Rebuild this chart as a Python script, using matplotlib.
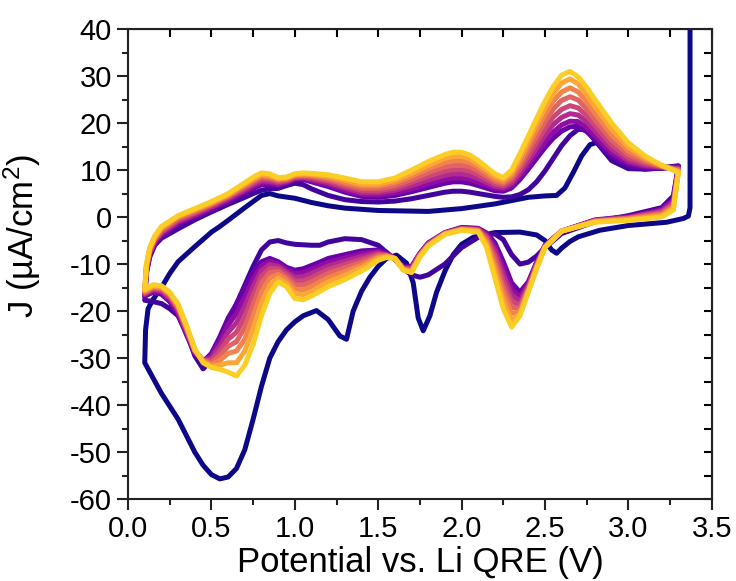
import numpy as np
import matplotlib
matplotlib.use("Agg")
import matplotlib.pyplot as plt
from matplotlib.ticker import MultipleLocator

plt.rcParams["font.family"] = ["Liberation Sans", "DejaVu Sans"]
plt.rcParams["mathtext.fontset"] = "custom"
plt.rcParams["mathtext.rm"] = "Liberation Sans"
plt.rcParams["axes.unicode_minus"] = False

# ---- cycle 1 (first scan, starts at OCV) ----
cyc1_cat_E = [3.37, 3.37, 3.36, 3.33, 3.23, 3.00, 2.83, 2.70, 2.65, 2.60, 2.57, 2.54, 2.50, 2.45, 2.35,
              2.20, 2.07, 2.00, 1.95, 1.90, 1.85, 1.81, 1.77, 1.74, 1.71, 1.67, 1.61, 1.55, 1.50, 1.45,
              1.40, 1.35, 1.31, 1.27, 1.20, 1.13, 1.05, 1.00, 0.95, 0.90, 0.85, 0.80, 0.75, 0.70, 0.65,
              0.60, 0.55, 0.50, 0.45, 0.40, 0.30, 0.20, 0.10]
cyc1_cat_J = [46.0, 2.0, 0.2, -0.3, -1.1, -1.8, -2.8, -4.2, -5.2, -6.6, -7.7, -7.0, -5.0, -3.8, -3.2,
              -3.3, -4.3, -5.8, -8.0, -11.5, -16.0, -21.0, -24.2, -21.5, -14.0, -9.8, -8.1, -8.8, -10.5, -12.8,
              -15.8, -20.0, -26.0, -25.3, -21.8, -19.9, -21.0, -22.3, -24.0, -26.5, -30.0, -36.0, -43.0, -49.5, -53.5,
              -55.3, -55.7, -54.8, -52.8, -50.0, -43.0, -37.5, -31.0]
cyc1_an_E = [0.10, 0.105, 0.12, 0.15, 0.20, 0.25, 0.30, 0.40, 0.50, 0.55, 0.60, 0.70, 0.80, 0.85, 0.90,
             1.00, 1.10, 1.20, 1.30, 1.50, 1.80, 2.00, 2.10, 2.20, 2.30, 2.40, 2.50, 2.57, 2.62, 2.67,
             2.72, 2.77, 2.82, 2.87, 2.92, 3.00, 3.10, 3.20, 3.30]
cyc1_an_J = [-31.0, -24.0, -19.5, -17.5, -15.0, -12.0, -9.5, -6.3, -3.2, -2.0, -0.7, 2.0, 4.6, 5.0, 4.5,
             4.0, 3.1, 2.4, 1.9, 1.4, 1.2, 1.8, 2.3, 2.8, 3.5, 4.2, 4.5, 4.6, 6.2, 9.5,
             13.0, 15.4, 16.0, 14.3, 12.3, 10.8, 10.2, 10.4, 10.8]

# ---- cycles 2-10: cathodic sweep (listed with rising potential) ----
E_cat = [0.10, 0.15, 0.20, 0.25, 0.30, 0.35, 0.40, 0.45, 0.50, 0.55,
         0.60, 0.65, 0.70, 0.75, 0.80, 0.85, 0.90, 0.95, 1.00, 1.05,
         1.10, 1.15, 1.20, 1.30, 1.40, 1.50, 1.55, 1.60, 1.65, 1.70,
         1.75, 1.80, 1.90, 2.00, 2.10, 2.15, 2.20, 2.25, 2.30, 2.35,
         2.40, 2.45, 2.50, 2.60, 2.80, 3.00, 3.20, 3.27, 3.30]

cat_c2 = [-17.7, -18.0, -18.4, -19.5, -21.0, -24.5, -29.5, -32.3, -30.5, -27.0,
          -23.0, -18.5, -14.5, -10.5, -7.0, -5.3, -5.0, -5.5, -5.8, -5.9,
          -6.0, -6.0, -5.3, -4.6, -4.8, -6.0, -7.5, -9.0, -11.0, -12.3,
          -12.8, -12.3, -10.0, -6.5, -4.3, -3.8, -3.6, -4.8, -8.0, -10.0,
          -9.6, -8.3, -6.5, -3.5, -1.0, 0.3, 2.0, 4.5, 10.8]
cat_c3 = [-16.8, -16.0, -16.4, -18.0, -20.8, -25.0, -29.0, -30.8, -29.0, -25.5,
          -21.5, -18.5, -15.0, -11.8, -9.5, -8.8, -9.5, -10.7, -11.3, -11.0,
          -10.3, -9.6, -8.8, -8.0, -7.2, -7.0, -7.8, -8.8, -10.6, -10.5,
          -7.7, -5.5, -3.3, -2.2, -2.4, -3.4, -5.5, -9.5, -14.0, -16.0,
          -13.8, -9.6, -6.0, -3.0, -0.6, 0.1, 1.7, 4.0, 10.6]
cat_c4 = [-16.6, -15.7, -16.0, -17.6, -20.3, -24.6, -28.8, -30.6, -29.5, -26.5,
          -23.0, -20.5, -17.0, -13.2, -10.4, -9.4, -10.0, -11.2, -12.0, -11.8,
          -11.1, -10.4, -9.6, -8.7, -7.8, -7.3, -7.9, -8.8, -10.7, -10.7,
          -7.8, -5.6, -3.35, -2.3, -2.5, -3.7, -6.3, -10.8, -15.3, -17.0,
          -14.2, -9.8, -6.1, -3.0, -0.7, 0.0, 1.5, 3.6, 10.5]
cat_c5 = [-16.4, -15.4, -15.7, -17.2, -19.9, -24.2, -28.6, -30.5, -30.0, -27.5,
          -24.5, -22.5, -19.0, -14.8, -11.4, -10.1, -10.5, -11.7, -12.8, -12.7,
          -12.0, -11.2, -10.4, -9.4, -8.4, -7.6, -8.0, -8.8, -10.8, -10.9,
          -7.9, -5.7, -3.4, -2.4, -2.6, -4.0, -7.2, -12.2, -16.6, -17.9,
          -14.6, -10.0, -6.2, -3.0, -0.75, -0.1, 1.3, 3.2, 10.3]
cat_c6 = [-16.2, -15.2, -15.4, -16.9, -19.5, -23.9, -28.5, -30.5, -30.5, -28.5,
          -26.0, -24.5, -21.3, -16.6, -12.6, -10.9, -11.0, -12.2, -13.6, -13.6,
          -12.9, -12.0, -11.2, -10.1, -9.0, -7.9, -8.1, -8.8, -10.9, -11.1,
          -8.0, -5.8, -3.45, -2.5, -2.7, -4.4, -8.2, -13.6, -17.9, -18.7,
          -15.0, -10.2, -6.3, -3.0, -0.8, -0.2, 1.0, 2.8, 10.2]
cat_c7 = [-16.0, -15.0, -15.2, -16.6, -19.2, -23.6, -28.4, -30.5, -31.0, -29.5,
          -27.5, -26.5, -23.5, -18.6, -14.0, -11.8, -11.6, -12.8, -14.4, -14.5,
          -13.8, -12.9, -12.0, -10.8, -9.6, -8.2, -8.2, -8.8, -11.0, -11.3,
          -8.1, -5.9, -3.5, -2.55, -2.8, -4.8, -9.3, -15.0, -19.2, -19.4,
          -15.3, -10.4, -6.3, -3.0, -0.85, -0.3, 0.8, 2.5, 10.0]
cat_c8 = [-15.8, -14.8, -15.0, -16.4, -18.9, -23.4, -28.3, -30.6, -31.4, -30.5,
          -29.0, -28.5, -26.0, -21.0, -16.0, -13.0, -12.2, -13.4, -15.3, -15.5,
          -14.8, -13.8, -12.9, -11.6, -10.2, -8.5, -8.3, -8.8, -11.1, -11.5,
          -8.2, -6.0, -3.55, -2.6, -2.9, -5.3, -10.5, -16.4, -20.5, -20.1,
          -15.6, -10.6, -6.4, -3.0, -0.9, -0.4, 0.5, 2.1, 9.8]
cat_c9 = [-15.6, -14.6, -14.8, -16.2, -18.7, -23.2, -28.2, -30.8, -31.8, -31.5,
          -31.0, -31.0, -28.5, -23.8, -18.3, -14.5, -13.0, -14.1, -16.3, -16.5,
          -15.8, -14.8, -13.8, -12.4, -10.8, -8.8, -8.4, -8.8, -11.2, -11.7,
          -8.4, -6.1, -3.6, -2.7, -3.0, -5.9, -11.7, -18.0, -22.0, -20.6,
          -15.8, -10.8, -6.4, -3.0, -1.0, -0.55, 0.25, 1.8, 9.7]
cat_c10 = [-15.4, -14.4, -14.6, -16.0, -18.5, -23.0, -28.0, -31.0, -32.0, -32.4,
           -33.0, -33.8, -31.5, -27.0, -21.0, -16.2, -13.8, -14.8, -17.3, -17.6,
           -16.8, -15.8, -14.8, -13.3, -11.5, -9.2, -8.6, -8.8, -11.3, -11.8,
           -8.5, -6.2, -3.7, -2.8, -3.2, -6.5, -13.0, -19.5, -23.4, -21.0,
           -16.0, -11.0, -6.5, -3.0, -1.1, -0.7, 0.0, 1.5, 9.5]

# ---- cycles 2-10: anodic sweep ----
E_an = [0.11, 0.13, 0.16, 0.20, 0.30, 0.40, 0.50, 0.60, 0.70, 0.75,
        0.80, 0.85, 0.90, 0.95, 1.00, 1.05, 1.10, 1.20, 1.30, 1.40,
        1.50, 1.60, 1.70, 1.80, 1.90, 1.95, 2.00, 2.05, 2.10, 2.20,
        2.25, 2.30, 2.35, 2.40, 2.45, 2.50, 2.55, 2.60, 2.65, 2.70,
        2.75, 2.80, 2.90, 3.00, 3.10, 3.20, 3.30]

an_c2 = [-12.0, -8.5, -6.0, -4.5, -2.5, -0.6, 1.1, 2.7, 4.2, 5.0,
         5.7, 6.0, 6.1, 6.7, 7.2, 6.9, 6.0, 4.6, 3.7, 3.3,
         3.2, 3.4, 3.9, 4.6, 5.3, 5.5, 5.5, 5.3, 5.0, 4.4,
         4.2, 4.3, 4.8, 5.8, 7.5, 9.8, 12.5, 15.2, 17.3, 18.7,
         18.5, 16.3, 12.0, 10.3, 10.2, 10.5, 10.9]
an_c3 = [-11.6, -8.2, -5.7, -4.0, -1.5, 0.0, 1.6, 3.3, 5.1, 6.1,
         6.9, 6.8, 6.6, 7.2, 7.9, 8.0, 7.5, 6.5, 5.3, 4.4,
         4.2, 4.6, 5.4, 6.3, 7.2, 7.5, 7.5, 7.2, 6.7, 5.6,
         5.5, 6.2, 8.0, 10.2, 12.5, 14.8, 16.8, 18.3, 19.2, 19.3,
         18.2, 16.5, 13.0, 11.0, 10.4, 10.4, 10.7]
an_c4 = [-11.4, -7.9, -5.4, -3.7, -1.2, 0.3, 1.9, 3.6, 5.5, 6.5,
         7.3, 7.2, 6.9, 7.4, 8.1, 8.2, 7.8, 6.9, 5.7, 4.8,
         4.7, 5.1, 6.0, 7.1, 8.0, 8.3, 8.3, 8.0, 7.4, 6.1,
         5.9, 6.7, 8.7, 11.0, 13.5, 16.0, 18.1, 19.6, 20.4, 20.3,
         19.1, 17.3, 13.7, 11.5, 10.7, 10.5, 10.5]
an_c5 = [-11.2, -7.6, -5.1, -3.4, -0.9, 0.6, 2.2, 3.9, 5.8, 6.9,
         7.7, 7.6, 7.2, 7.6, 8.3, 8.4, 8.1, 7.3, 6.2, 5.2,
         5.2, 5.7, 6.7, 7.9, 8.9, 9.2, 9.2, 8.9, 8.2, 6.6,
         6.3, 7.2, 9.4, 12.0, 14.7, 17.4, 19.7, 21.2, 22.0, 21.7,
         20.3, 18.3, 14.5, 12.0, 11.0, 10.6, 10.3]
an_c6 = [-11.0, -7.3, -4.9, -3.1, -0.6, 0.9, 2.5, 4.2, 6.2, 7.3,
         8.1, 8.0, 7.5, 7.8, 8.5, 8.6, 8.4, 7.7, 6.6, 5.7,
         5.6, 6.2, 7.4, 8.7, 9.8, 10.1, 10.1, 9.8, 9.0, 7.1,
         6.7, 7.8, 10.2, 13.0, 15.9, 18.8, 21.3, 22.9, 23.7, 23.2,
         21.6, 19.5, 15.4, 12.6, 11.4, 10.7, 10.2]
an_c7 = [-10.7, -7.1, -4.6, -2.8, -0.3, 1.1, 2.7, 4.4, 6.5, 7.6,
         8.5, 8.3, 7.8, 8.0, 8.7, 8.8, 8.7, 8.0, 7.0, 6.1,
         6.1, 6.7, 8.0, 9.5, 10.7, 11.0, 11.0, 10.7, 9.8, 7.6,
         7.1, 8.3, 11.0, 14.1, 17.2, 20.3, 23.0, 24.8, 25.6, 24.9,
         23.0, 20.7, 16.4, 13.3, 11.8, 10.8, 10.0]
an_c8 = [-10.5, -6.9, -4.4, -2.5, 0.0, 1.4, 2.9, 4.6, 6.8, 7.9,
         8.8, 8.6, 8.0, 8.2, 8.9, 9.0, 8.9, 8.4, 7.4, 6.6,
         6.6, 7.3, 8.7, 10.3, 11.6, 12.0, 12.0, 11.6, 10.6, 8.1,
         7.5, 8.9, 11.8, 15.2, 18.5, 21.8, 24.7, 26.6, 27.5, 26.6,
         24.5, 22.1, 17.5, 14.1, 12.2, 10.9, 9.8]
an_c9 = [-10.2, -6.7, -4.2, -2.2, 0.2, 1.6, 3.1, 4.8, 7.1, 8.2,
         9.1, 8.9, 8.2, 8.4, 9.1, 9.2, 9.1, 8.7, 7.9, 7.0,
         7.0, 7.8, 9.3, 11.0, 12.5, 12.9, 12.9, 12.4, 11.3, 8.7,
         8.0, 9.4, 12.7, 16.2, 19.8, 23.2, 26.3, 28.5, 29.4, 28.3,
         26.0, 23.5, 18.7, 14.9, 12.6, 11.0, 9.7]
an_c10 = [-10.0, -6.5, -4.0, -2.0, 0.3, 1.8, 3.3, 5.0, 7.3, 8.5,
          9.4, 9.2, 8.4, 8.5, 9.2, 9.4, 9.3, 9.0, 8.3, 7.5,
          7.5, 8.3, 10.0, 11.8, 13.3, 13.8, 13.8, 13.2, 12.0, 9.2,
          8.4, 10.0, 13.5, 17.2, 21.0, 24.6, 27.8, 30.2, 31.0, 29.8,
          27.6, 25.0, 20.0, 15.8, 13.0, 11.0, 9.5]

x_ticks = [0.0, 0.5, 1.0, 1.5, 2.0, 2.5, 3.0, 3.5]
y_ticks = [-60, -50, -40, -30, -20, -10, 0, 10, 20, 30, 40]

cathodic = [cat_c2, cat_c3, cat_c4, cat_c5, cat_c6, cat_c7, cat_c8, cat_c9, cat_c10]
anodic = [an_c2, an_c3, an_c4, an_c5, an_c6, an_c7, an_c8, an_c9, an_c10]

colors = plt.cm.plasma(np.linspace(0, 0.9, 10))

fig = plt.figure(figsize=(7.36, 5.81), dpi=100)
ax = fig.add_axes([0.174, 0.141, 0.793, 0.809])

line_kw = dict(lw=3.6, solid_joinstyle="round", solid_capstyle="round")

# first cycle
ax.plot(cyc1_cat_E + cyc1_an_E, cyc1_cat_J + cyc1_an_J, color=colors[0], **line_kw)

# following cycles, later ones on top
for i, (cat, an) in enumerate(zip(cathodic, anodic)):
    E = E_cat[::-1] + E_an
    J = cat[::-1] + an
    ax.plot(E, J, color=colors[i + 1], **line_kw)

ax.set_xlim(0, 3.5)
ax.set_ylim(-60, 40)
ax.set_xticks(x_ticks)
ax.set_xticklabels([f"{v:.1f}" for v in x_ticks])
ax.set_yticks(y_ticks)
ax.xaxis.set_minor_locator(MultipleLocator(0.25))
ax.yaxis.set_minor_locator(MultipleLocator(5))

for s in ax.spines.values():
    s.set_linewidth(1.5)
    s.set_color("#222222")

ax.tick_params(which="both", direction="out", width=1.5, color="#222222",
               labelsize=21, top=False, right=False)
ax.tick_params(which="major", length=8)
ax.tick_params(which="minor", length=4)

# inward ticks on top and right
ax_top = ax.secondary_xaxis("top")
ax_top.set_xticks(x_ticks)
ax_top.xaxis.set_minor_locator(MultipleLocator(0.25))
ax_top.tick_params(which="both", direction="in", length=6, width=1.5, labeltop=False)
ax_right = ax.secondary_yaxis("right")
ax_right.set_yticks(y_ticks)
ax_right.yaxis.set_minor_locator(MultipleLocator(5))
ax_right.tick_params(which="both", direction="in", length=6, width=1.5, labelright=False)

ax.set_xlabel("Potential vs. Li QRE (V)", fontsize=25, labelpad=2)
ax.set_ylabel(r"J (µA/cm$\mathregular{^2}$)", fontsize=25)
ax.yaxis.set_label_coords(-0.145, 0.56)

fig.savefig("out.png", dpi=100)
